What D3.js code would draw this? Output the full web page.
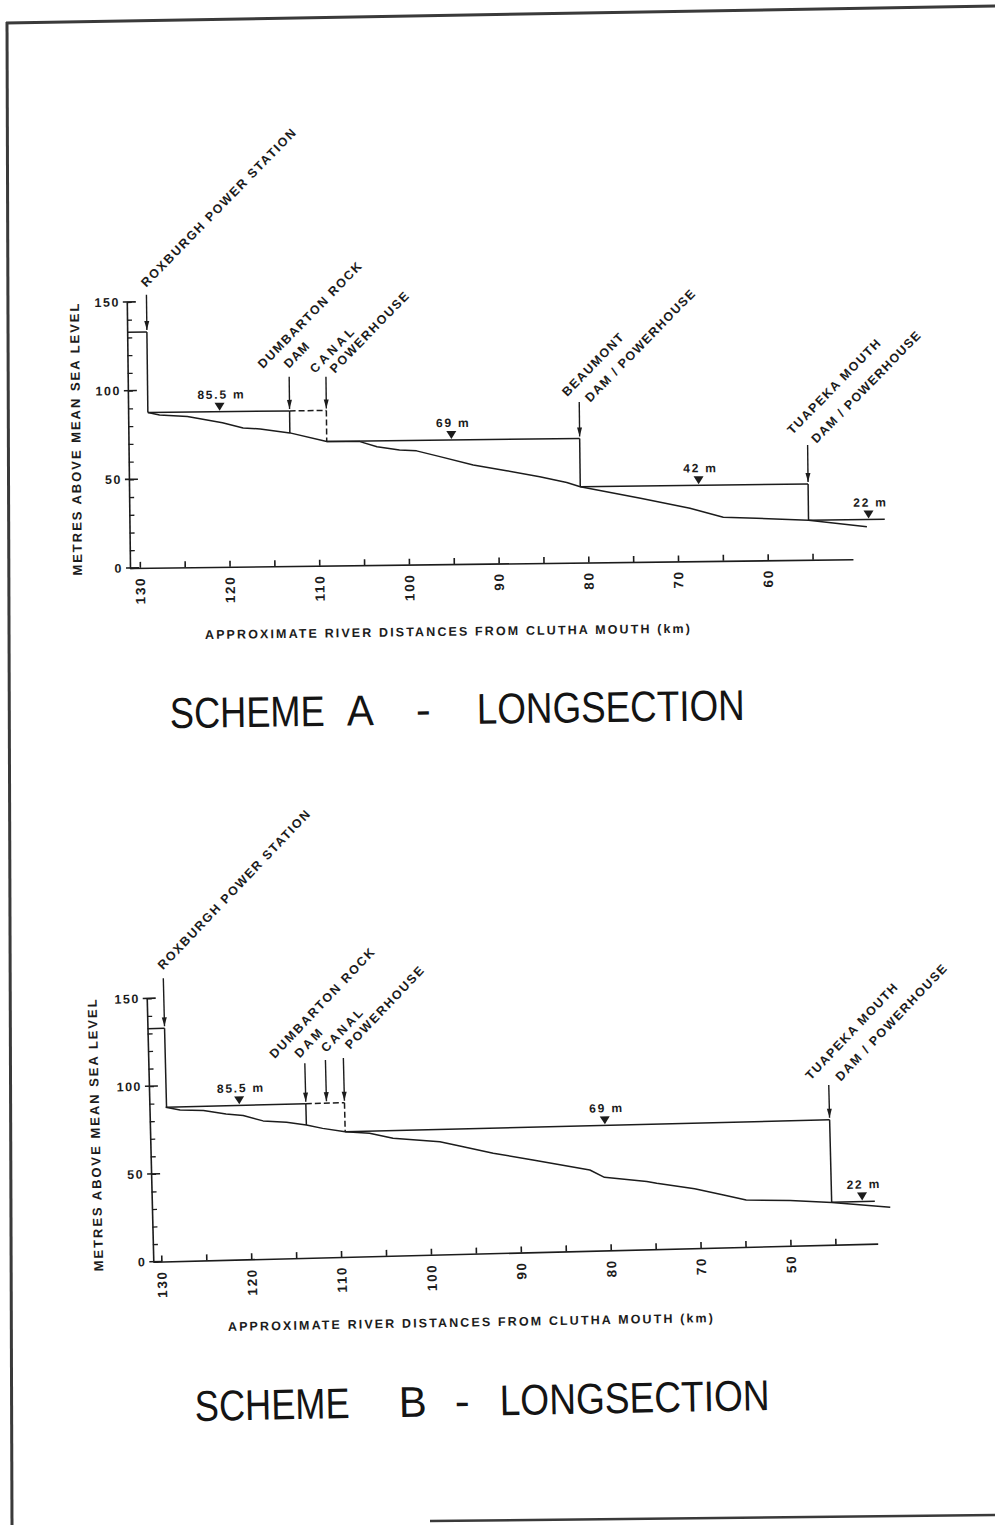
<!DOCTYPE html>
<html><head><meta charset="utf-8">
<script src="https://cdn.jsdelivr.net/npm/d3@7"></script>
<style>body{margin:0;background:#fff}svg{display:block}</style>
</head><body>
<svg id="c" width="995" height="1525"></svg>
<script>
// ---------------- DATA ----------------
const yMinorTicks = [0,10,20,30,40,50,60,70,80,90,100,110,120,130,140,150];
const yMajorTicks = [0,50,100,150];
const yTickLabels = ["0","50","100","150"];
const xTickValues = [130,125,120,115,110,105,100,95,90,85,80,75,70,65,60,55];
const xLabelValues = [130,120,110,100,90,80,70,60];
const xTickLabelsA = ["130","120","110","100","90","80","70","60"];
const xTickLabelsB = ["130","120","110","100","90","80","70","50"];

// Scheme A river bed (km from Clutha mouth, metres above MSL)
const bedKmA   = [128.9,127.6,124.5,120.6,118.3,116.4,113.1,109.0,105.3,103.4,100.9,99.0,96.4,92.7,89.0,85.3,82.3,80.8,74.1,68.6,64.9,61.2,55.4,48.9];
const bedElevA = [87.5,86.1,85.0,81.3,78.2,77.5,75.1,70.0,69.7,66.7,64.7,64.1,60.7,55.8,52.3,48.7,45.2,42.8,35.9,29.9,24.6,23.8,22.3,18.3];
// Scheme A water levels: [from km, to km, level m]
const waterA = [[131.1,128.9,133],[128.9,113.1,87.5],[113.1,109.0,87.5],[109.0,80.8,70],[80.8,55.4,42.8],[55.4,46.9,22.3]];
const levelTextA = ["85.5 m","69 m","42 m","22 m"];
const levelKmA   = [120.9,95.1,67.6,48.7];
const levelElevA = [87.5,70,42.8,22.3];
const stationLinesA = [["ROXBURGH POWER STATION"],["DUMBARTON ROCK","DAM"],["CANAL","POWERHOUSE"],["BEAUMONT","DAM / POWERHOUSE"],["TUAPEKA MOUTH","DAM / POWERHOUSE"]];
const stationKmA   = [128.9,113.1,109.0,80.8,55.4];
const stationTopA  = [154,106.8,106.5,90.6,64.8];
const stationArrowEndA = [133,87.5,87.5,70,42.8];
const stationBaseA = [87.5,75.1,70,42.8,22.3];

// Scheme B
const bedKmB   = [129.1,127.5,124.9,122.4,120.5,118.3,115.7,113.5,111.7,109.2,106.5,103.9,98.7,96.5,92.8,88.4,82.1,80.5,75.8,74.7,70.5,67.3,64.8,59.9,55.3,48.8];
const bedElevB = [87.8,86.0,85.3,83.1,81.9,78.6,77.5,75.7,73.5,71.2,70.0,66.9,64.2,61.5,56.9,52.5,46.0,41.6,38.6,37.5,33.8,29.9,26.7,25.8,24.0,20.5];
const waterB = [[130.9,129.0,132.7],[129.0,113.5,87.8],[113.5,109.2,87.8],[109.2,55.3,71.2],[55.3,50.5,24.2]];
const levelTextB = ["85.5 m","69 m","22 m"];
const levelKmB   = [120.9,80.3,51.9];
const levelElevB = [87.8,71.2,24.2];
const stationLinesB = [["ROXBURGH POWER STATION"],["DUMBARTON ROCK","DAM"],["CANAL"],["POWERHOUSE"],["TUAPEKA MOUTH","DAM / POWERHOUSE"]];
const stationKmB   = [129.0,113.5,111.2,109.2,55.3];
const stationTopB  = [161.2,110.8,112.4,113.3,91];
const stationArrowEndB = [132.7,87.8,87.8,87.8,71.2];
const stationBaseB = [87.8,75.7,null,71.2,24.0];

// ---------------- DRAWING ----------------
const FONT = "'Liberation Sans', Arial, Helvetica, sans-serif";
const INK = "#1c1c1c";
const svg = d3.select("#c");
svg.append("rect").attr("width",995).attr("height",1525).attr("fill","#fff");

// page frame (scanned sheet border)
svg.append("path").attr("d","M6,23 L995,6").attr("stroke","#3a3a3a").attr("stroke-width",3).attr("fill","none");
svg.append("path").attr("d","M7,22 L12,1525").attr("stroke","#3a3a3a").attr("stroke-width",3).attr("fill","none");
svg.append("path").attr("d","M430,1521 L995,1515").attr("stroke","#3a3a3a").attr("stroke-width",2.5).attr("fill","none");

function drawScheme(o) {
  const g = svg.append("g").attr("transform", `rotate(${o.angle},${o.pivot[0]},${o.pivot[1]})`);
  const x = d3.scaleLinear().domain(o.kmDomain).range(o.xRange);
  const y = d3.scaleLinear().domain([0,150]).range(o.yRange);
  const ax = o.xRange[0];

  // x axis
  const xa = g.append("g").attr("transform",`translate(0,${y(0)})`)
    .call(d3.axisBottom(x).tickValues(xTickValues).tickSize(-6).tickSizeOuter(0).tickFormat(""));
  xa.select(".domain").attr("stroke",INK).attr("stroke-width",1.6);
  xa.selectAll(".tick line").attr("stroke",INK).attr("stroke-width",1.6);
  g.selectAll(null).data(xLabelValues).join("text")
    .attr("transform", d => `translate(${x(d)+5},${y(0)+9}) rotate(-90)`)
    .attr("text-anchor","end").attr("font-family",FONT).attr("font-weight","bold")
    .attr("font-size",13.5).attr("letter-spacing",1.6).attr("fill",INK)
    .text((d,i) => o.xLabels[i]);

  // y axis
  const ya = g.append("g").attr("transform",`translate(${ax},0)`)
    .call(d3.axisRight(y).tickValues(yMinorTicks).tickSize(5).tickSizeOuter(0).tickFormat(""));
  ya.select(".domain").attr("stroke",INK).attr("stroke-width",1.6);
  ya.selectAll(".tick line").attr("stroke",INK).attr("stroke-width",1.3);
  g.selectAll(null).data(yMajorTicks).join("line")
    .attr("x1",ax-4).attr("x2",ax+9).attr("y1",d=>y(d)).attr("y2",d=>y(d))
    .attr("stroke",INK).attr("stroke-width",1.6);
  g.selectAll(null).data(yMajorTicks).join("text")
    .attr("x",ax-7).attr("y",d=>y(d)+4.5).attr("text-anchor","end")
    .attr("font-family",FONT).attr("font-weight","bold").attr("font-size",12.5)
    .attr("letter-spacing",1.5).attr("fill",INK)
    .text((d,i)=>yTickLabels[i]);
  g.append("text")
    .attr("transform",`translate(${o.yTitleX},${(y(0)+y(150))/2+4}) rotate(-90)`)
    .attr("text-anchor","middle").attr("font-family",FONT).attr("font-weight","bold")
    .attr("font-size",13).attr("fill",INK)
    .attr("textLength",272).attr("lengthAdjust","spacing")
    .text("METRES ABOVE MEAN SEA LEVEL");

  // river bed
  const bed = o.bedKm.map((k,i)=>[k,o.bedElev[i]]);
  g.append("path").datum(bed)
    .attr("d", d3.line().x(d=>x(d[0])).y(d=>y(d[1])))
    .attr("fill","none").attr("stroke",INK).attr("stroke-width",1.5).attr("stroke-linejoin","round");

  // water levels
  g.selectAll(null).data(o.water).join("line")
    .attr("x1",d=>x(d[0])).attr("x2",d=>x(d[1])).attr("y1",d=>y(d[2])).attr("y2",d=>y(d[2]))
    .attr("stroke",INK).attr("stroke-width",1.5)
    .attr("stroke-dasharray",(d,i)=> i===o.dashedWater ? "6,3" : null);

  // structures (dams / powerhouses), arrows, labels
  o.stKm.forEach((k,i)=>{
    if (o.stBase[i] !== null) {
      g.append("line").attr("x1",x(k)).attr("x2",x(k))
        .attr("y1",y(o.stArrowEnd[i])).attr("y2",y(o.stBase[i]))
        .attr("stroke",INK).attr("stroke-width",1.5)
        .attr("stroke-dasharray", i===o.dashedStation ? "6,3" : null);
    }
    const xe = x(k), yt = y(o.stTop[i]), ye = y(o.stArrowEnd[i]);
    g.append("line").attr("x1",xe).attr("x2",xe).attr("y1",yt).attr("y2",ye-2)
      .attr("stroke",INK).attr("stroke-width",1.4);
    g.append("path").attr("d",`M${xe-2.5},${ye-11} L${xe+2.5},${ye-11} L${xe},${ye-2} Z`).attr("fill",INK);
    o.stLines[i].forEach((txt,j)=>{
      const off = o.labelOff[i][j];
      g.append("text")
        .attr("transform",`translate(${xe+off[0]},${yt+off[1]}) rotate(-45)`)
        .attr("font-family",FONT).attr("font-weight","bold").attr("font-size",12.5)
        .attr("fill",INK).attr("textLength",o.labelLen[i][j]).attr("lengthAdjust","spacing")
        .text(txt);
    });
  });

  // water level markers
  o.levelKm.forEach((k,i)=>{
    const xm = x(k), yw = y(o.levelElev[i]);
    g.append("path").attr("d",`M${xm-5},${yw-9} L${xm+5},${yw-9} L${xm},${yw-1} Z`).attr("fill",INK);
    g.append("text").attr("x",xm+2).attr("y",yw-13).attr("text-anchor","middle")
      .attr("font-family",FONT).attr("font-weight","bold").attr("font-size",12)
      .attr("letter-spacing",1.8).attr("fill",INK).text(o.levelText[i]);
  });
}

drawScheme({
  angle:-0.69, pivot:[130,568], kmDomain:[131.1,50.5], xRange:[130,853], yRange:[568,302],
  xLabels:xTickLabelsA, yTitleX:82,
  bedKm:bedKmA, bedElev:bedElevA, water:waterA, dashedWater:2,
  stKm:stationKmA, stTop:stationTopA, stArrowEnd:stationArrowEndA, stBase:stationBaseA, stLines:stationLinesA,
  dashedStation:2,
  labelOff:[[[0,-7]],[[-26,-8],[0,-8]],[[-11,-3],[9,-3]],[[-12,-5],[11,1]],[[-15,-10],[9,-1]]],
  labelLen:[[215],[142,30],[57,107],[82,151],[127,150]],
  levelText:levelTextA, levelKm:levelKmA, levelElev:levelElevA
});

drawScheme({
  angle:-1.43, pivot:[153.3,1261.7], kmDomain:[130.9,50.3], xRange:[153.3,877.9], yRange:[1261.7,998.3],
  xLabels:xTickLabelsB, yTitleX:103,
  bedKm:bedKmB, bedElev:bedElevB, water:waterB, dashedWater:2,
  stKm:stationKmB, stTop:stationTopB, stArrowEnd:stationArrowEndB, stBase:stationBaseB, stLines:stationLinesB,
  dashedStation:3,
  labelOff:[[[0,-8]],[[-30,-5],[-5,-5]],[[1,-7]],[[7,-8]],[[-18,-5],[12,-3]]],
  labelLen:[[214],[146,34],[54],[108],[127,155]],
  levelText:levelTextB, levelKm:levelKmB, levelElev:levelElevB
});

// x-axis titles
function axisTitle(x0,y0,ang){
  svg.append("text").attr("transform",`rotate(${ang},${x0},${y0})`)
    .attr("x",x0).attr("y",y0).attr("font-family",FONT).attr("font-weight","bold")
    .attr("font-size",12.5).attr("fill",INK).attr("textLength",485).attr("lengthAdjust","spacing")
    .text("APPROXIMATE RIVER DISTANCES FROM CLUTHA MOUTH (km)");
}
axisTitle(205,639,-0.75);
axisTitle(228,1331,-1.05);

// big titles (glyphs horizontally condensed to match the original lettering)
function bigTitle(pieces, y0, ang){
  const g = svg.append("g").attr("transform",`rotate(${ang},${pieces[0][1]},${y0})`);
  pieces.forEach(p=>{
    const t = g.append("text").attr("x",0).attr("y",0).attr("font-family",FONT)
      .attr("font-size",43).attr("fill","#141414").text(p[0]);
    const w = t.node().getComputedTextLength();
    t.attr("transform",`translate(${p[1]},${y0}) scale(${p[2]/w},1)`);
  });
}
bigTitle([["SCHEME",170,155],["A",347,27],["-",416,15],["LONGSECTION",477,268]],728,-0.8);
bigTitle([["SCHEME",195,155],["B",399,28],["-",455,15],["LONGSECTION",500,270]],1421,-1.1);
</script>
</body></html>
